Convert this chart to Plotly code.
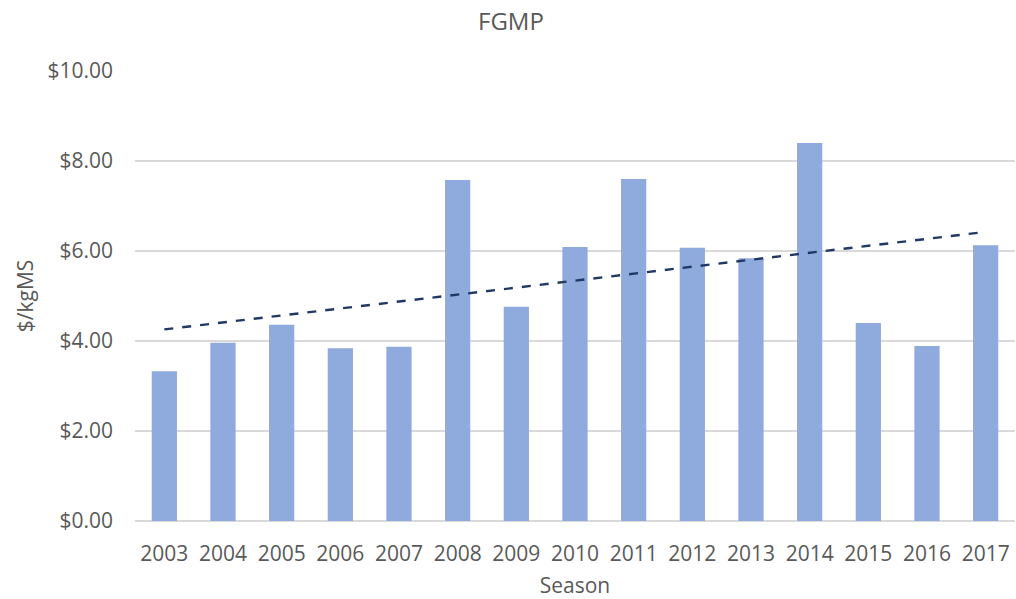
import plotly.graph_objects as go
import numpy as np

seasons = ["2003", "2004", "2005", "2006", "2007", "2008", "2009", "2010",
           "2011", "2012", "2013", "2014", "2015", "2016", "2017"]
fgmp = [3.33, 3.96, 4.36, 3.84, 3.87, 7.58, 4.76, 6.09, 7.60, 6.07, 5.84, 8.40, 4.40, 3.89, 6.13]
y_ticks = [0, 2, 4, 6, 8, 10]
y_tick_labels = ["$0.00", "$2.00", "$4.00", "$6.00", "$8.00", "$10.00"]
chart_title = "FGMP"

# linear trendline computed from the data
idx = np.arange(len(fgmp))
slope, intercept = np.polyfit(idx, fgmp, 1)
trend = list(intercept + slope * idx)

FONT = "Open Sans"
GRAY = "#595959"

fig = go.Figure()
fig.add_trace(go.Bar(x=seasons, y=fgmp, marker=dict(color="#8faadc", line=dict(width=0)),
                     showlegend=False))
fig.add_trace(go.Scatter(x=seasons, y=trend, mode="lines",
                         line=dict(color="#1f3864", width=2.4, dash="dash"),
                         showlegend=False))

fig.update_layout(
    width=1016, height=599,
    margin=dict(l=135, r=1, t=71, b=78, autoexpand=False),
    paper_bgcolor="white", plot_bgcolor="white",
    bargap=0.57,
    font=dict(family=FONT, color=GRAY),
)
fig.add_annotation(text=chart_title, xref="paper", yref="paper",
                   x=(510.5 - 135) / 880, y=1 + (71 - 21) / 450,
                   xanchor="center", yanchor="middle", showarrow=False,
                   font=dict(family=FONT, size=24, color=GRAY))
fig.update_xaxes(
    type="category", automargin=False,
    showgrid=False, showline=False, zeroline=False,
    tickfont=dict(family=FONT, size=21, color=GRAY),
    ticks="", ticklabelstandoff=18,
    title=dict(text="Season", font=dict(family=FONT, size=21, color=GRAY), standoff=16),
)
fig.update_yaxes(
    range=[0, 10], automargin=False,
    tickvals=y_ticks, ticktext=y_tick_labels,
    showgrid=True, gridcolor="#d9d9d9", gridwidth=1.5,
    zeroline=True, zerolinecolor="#d9d9d9", zerolinewidth=1.5,
    showline=False, ticks="", ticklabelstandoff=21,
    tickfont=dict(family=FONT, size=21, color=GRAY),
    title=dict(text="$/kgMS", font=dict(family=FONT, size=21, color=GRAY), standoff=8),
)

fig.write_html("out.html", config={"displayModeBar": False},
               post_script="document.body.style.margin='0';")
